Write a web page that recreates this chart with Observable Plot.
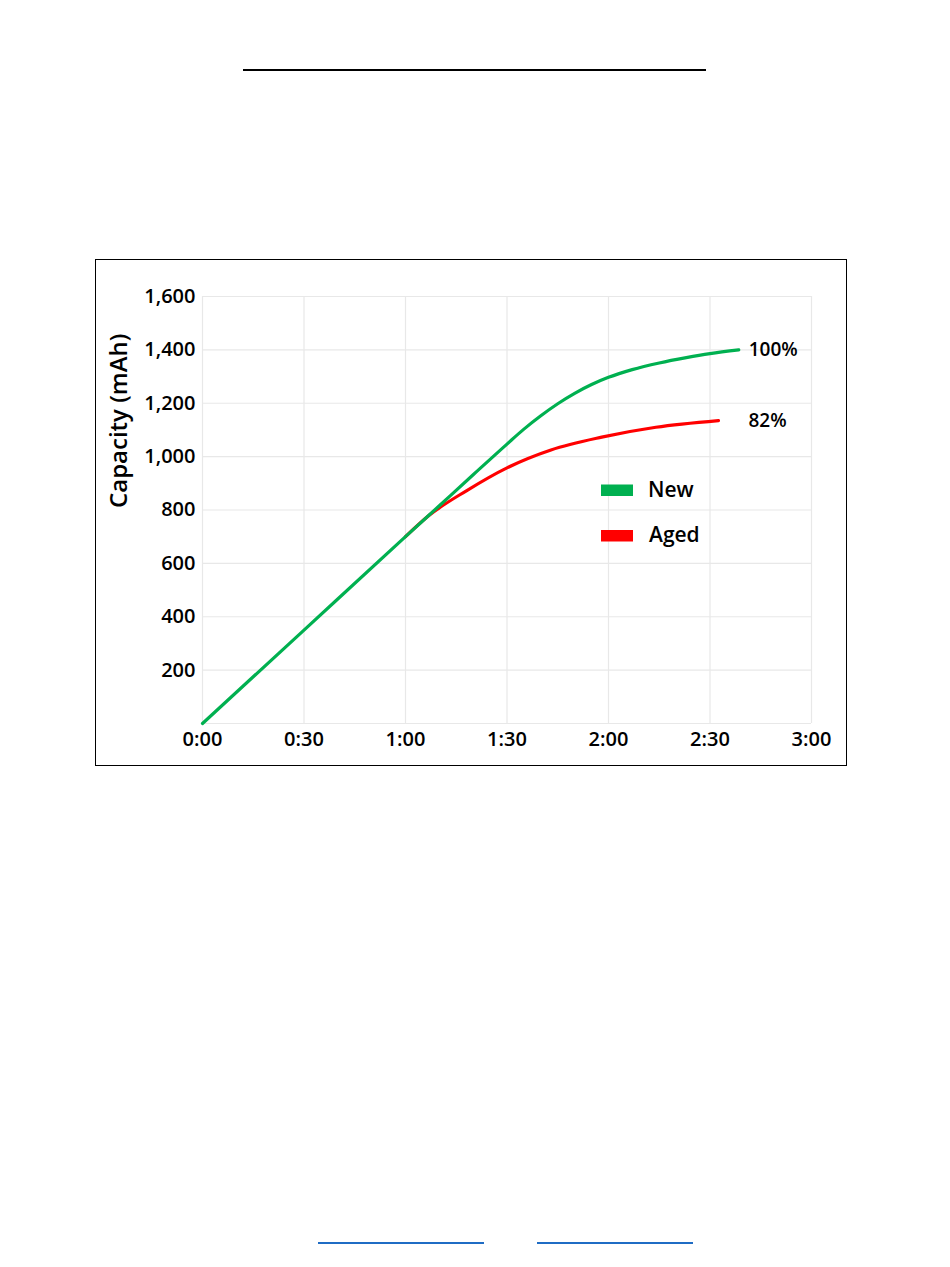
<!DOCTYPE html>
<html>
<head>
<meta charset="utf-8">
<script src="https://cdn.jsdelivr.net/npm/d3@7"></script>
<script src="https://cdn.jsdelivr.net/npm/@observablehq/plot@0.6"></script>
<style>
  html, body { margin: 0; padding: 0; background: #fff; }
  body { width: 950px; height: 1267px; position: relative; font-family: "Open Sans", sans-serif; }
  #rule { position: absolute; left: 243px; top: 69px; width: 463px; height: 2px; background: #000; }
  #box { position: absolute; left: 95px; top: 259px; width: 750px; height: 505px; border: 1px solid #000; }
  #box svg { position: absolute; left: 0; top: 0; }
  .link { position: absolute; top: 1242px; height: 1.5px; background: #1f6cc4; }
</style>
</head>
<body>
<div id="rule"></div>
<div id="box"></div>
<div class="link" style="left:318px;width:166px"></div>
<div class="link" style="left:537px;width:156px"></div>
<script>
// ---- data (time in minutes, capacity in mAh) ----
const newTime = [0, 30, 60, 70, 80, 90, 95, 100, 105, 110, 115, 120, 127, 135, 143, 150, 158.5];
const newCap  = [0, 350, 700, 816, 932, 1047, 1103, 1153, 1198, 1237, 1270, 1297, 1326, 1351, 1371, 1386, 1400];
const agedTime = [60, 67, 78, 90, 103, 118, 134, 152.5];
const agedCap  = [700, 780, 872, 958, 1025, 1073, 1110, 1135];
const seriesNames = ["New", "Aged"];
const seriesColors = ["#00b050", "#ff0000"];
const endLabels = ["100%", "82%"];
const xTicks = [0, 30, 60, 90, 120, 150, 180];
const yTicks = [200, 400, 600, 800, 1000, 1200, 1400, 1600];
const yGrid = [0, 200, 400, 600, 800, 1000, 1200, 1400, 1600];
const yLabel = "Capacity (mAh)";

const newData = newTime.map((t, i) => ({t, v: newCap[i]}));
const agedData = agedTime.map((t, i) => ({t, v: agedCap[i]}));
const fmt = t => `${Math.floor(t / 60)}:${String(t % 60).padStart(2, "0")}`;

const font = "Open Sans";
const chart = Plot.plot({
  width: 750,
  height: 505,
  marginLeft: 106,
  marginRight: 35,
  marginTop: 36,
  marginBottom: 42,
  style: {fontFamily: font, fontSize: "20px", color: "#000", background: "transparent"},
  x: {domain: [0, 180]},
  y: {domain: [0, 1600]},
  marks: [
    Plot.gridX(xTicks, {stroke: "#e8e8e8", strokeOpacity: 1, strokeWidth: 1.2}),
    Plot.gridY(yGrid, {stroke: "#e8e8e8", strokeOpacity: 1, strokeWidth: 1.2}),
    Plot.axisX(xTicks, {tickSize: 0, tickPadding: 8, tickFormat: fmt, fontSize: 20, fontWeight: 600, fill: "#000", label: null}),
    Plot.axisY(yTicks, {tickSize: 0, tickPadding: 7, tickFormat: d3.format(","), fontSize: 20, fontWeight: 600, fill: "#000", label: null}),
    Plot.text([yLabel], {frameAnchor: "left", rotate: -90, dx: -83, dy: -2, fontSize: 24, fontWeight: 600, fill: "#000"}),
    Plot.line(agedData, {x: "t", y: "v", stroke: seriesColors[1], strokeWidth: 3.2, curve: "monotone-x"}),
    Plot.line(newData, {x: "t", y: "v", stroke: seriesColors[0], strokeWidth: 3.2, curve: "monotone-x"}),
    Plot.text(newData, Plot.selectLast({x: "t", y: "v", text: () => endLabels[0], dx: 10, textAnchor: "start", fontSize: 19, fontWeight: 600, fill: "#000"})),
    Plot.text(agedData, Plot.selectLast({x: "t", y: "v", text: () => endLabels[1], dx: 30, textAnchor: "start", fontSize: 19, fontWeight: 600, fill: "#000"}))
  ]
});
document.getElementById("box").appendChild(chart);

// legend inside the chart SVG
const svg = d3.select(chart);
const lg = svg.append("g").attr("font-family", font).attr("text-anchor", "start");
seriesNames.forEach((name, i) => {
  const y0 = 224.5 + i * 45.5;
  lg.append("rect").attr("x", 505).attr("y", y0).attr("width", 32).attr("height", 11.5).attr("fill", seriesColors[i]);
  lg.append("text").attr("x", 552 + (i === 1 ? 1 : 0)).attr("y", y0 + 12).attr("font-size", 21).attr("font-weight", 600).attr("fill", "#000").text(name);
});
</script>
</body>
</html>
